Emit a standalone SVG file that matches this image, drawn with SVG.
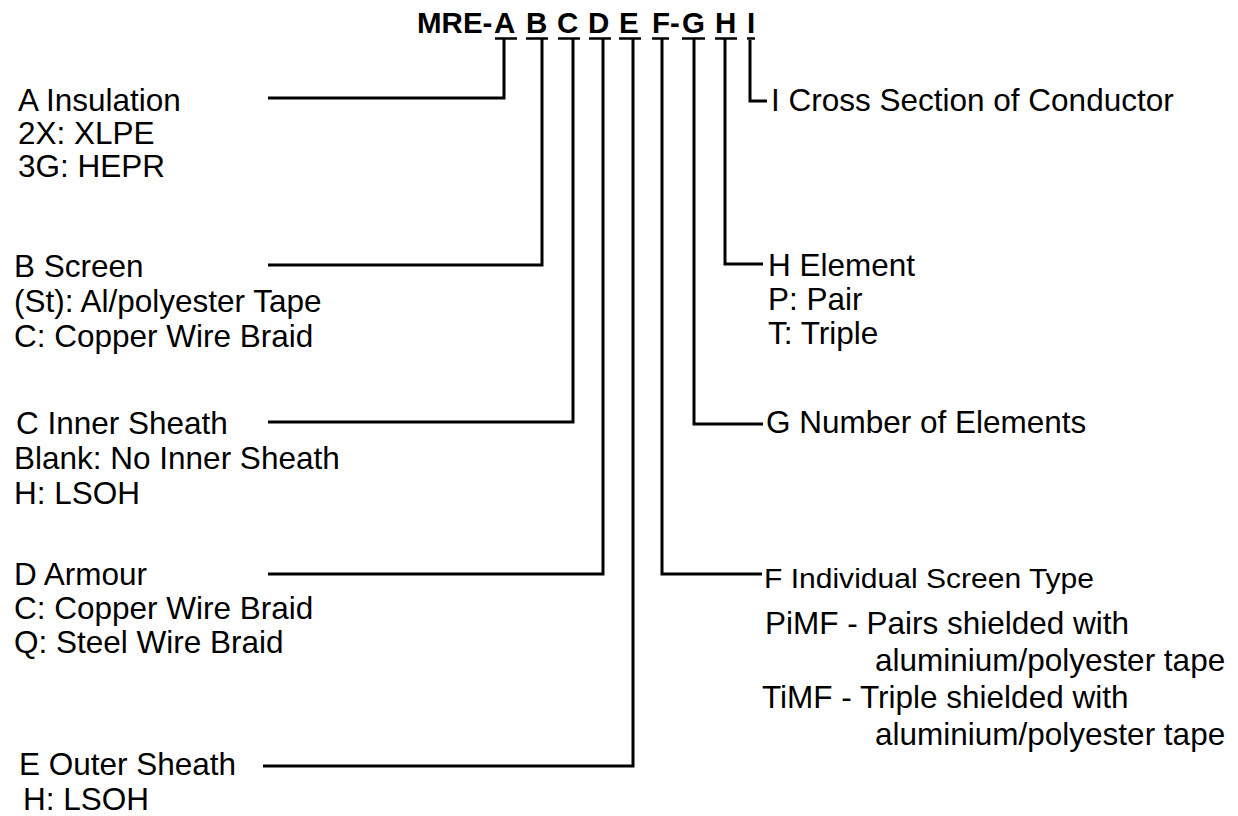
<svg xmlns="http://www.w3.org/2000/svg" width="1238" height="816" viewBox="0 0 1238 816">
<style>
text{font-family:"Liberation Sans",Arial,sans-serif;fill:#000;font-size:31.5px}
.title{font-weight:bold;font-size:29.5px}
.sm{font-size:27px}
.c{fill:none;stroke:#000;stroke-width:3;stroke-linecap:butt;stroke-linejoin:miter}
.u{stroke:#000;stroke-width:2.5}
</style>
<rect width="1238" height="816" fill="#fff"/>
<g id="title">
<text class="title" y="33"><tspan x="417">MRE-</tspan><tspan x="494">A</tspan><tspan x="526">B</tspan><tspan x="557">C</tspan><tspan x="588">D</tspan><tspan x="619">E</tspan><tspan x="652">F-</tspan><tspan x="682">G</tspan><tspan x="715">H</tspan><tspan x="747">I</tspan></text>
<g class="u">
<line x1="495" y1="38.5" x2="517" y2="38.5"/>
<line x1="526" y1="38.5" x2="548" y2="38.5"/>
<line x1="558" y1="38.5" x2="580" y2="38.5"/>
<line x1="589" y1="38.5" x2="611" y2="38.5"/>
<line x1="619" y1="38.5" x2="641" y2="38.5"/>
<line x1="652" y1="38.5" x2="669" y2="38.5"/>
<line x1="682" y1="38.5" x2="705" y2="38.5"/>
<line x1="715" y1="38.5" x2="737" y2="38.5"/>
<line x1="747" y1="38.5" x2="755" y2="38.5"/>
</g>
</g>
<g id="connectors">
<path class="c" d="M504,38 V98 H268"/>
<path class="c" d="M542,38 V265 H268"/>
<path class="c" d="M573,38 V422 H268"/>
<path class="c" d="M603,38 V574 H268"/>
<path class="c" d="M633,38 V766 H263"/>
<path class="c" d="M662,38 V574 H762"/>
<path class="c" d="M694,38 V424 H763"/>
<path class="c" d="M725,38 V264 H763"/>
<path class="c" d="M750,40 V101 H767"/>
</g>
<g id="nodeA">
<text x="18" y="111">A Insulation</text>
<text x="18" y="144">2X: XLPE</text>
<text x="18" y="177">3G: HEPR</text>
</g>
<g id="nodeB">
<text x="14" y="277">B Screen</text>
<text x="14" y="312">(St): Al/polyester Tape</text>
<text x="14" y="347">C: Copper Wire Braid</text>
</g>
<g id="nodeC">
<text x="16" y="434">C Inner Sheath</text>
<text x="14" y="469">Blank: No Inner Sheath</text>
<text x="14" y="504">H: LSOH</text>
</g>
<g id="nodeD">
<text x="14" y="585">D Armour</text>
<text x="14" y="619">C: Copper Wire Braid</text>
<text x="14" y="653">Q: Steel Wire Braid</text>
</g>
<g id="nodeE">
<text x="19" y="775">E Outer Sheath</text>
<text x="23" y="810">H: LSOH</text>
</g>
<g id="nodeI">
<text x="771" y="111">I Cross Section of Conductor</text>
</g>
<g id="nodeH">
<text x="768" y="276">H Element</text>
<text x="768" y="310">P: Pair</text>
<text x="768" y="344">T: Triple</text>
</g>
<g id="nodeG">
<text x="766" y="433">G Number of Elements</text>
</g>
<g id="nodeF">
<text class="sm" x="764" y="588" textLength="330" lengthAdjust="spacingAndGlyphs">F Individual Screen Type</text>
<text x="765" y="634">PiMF - Pairs shielded with</text>
<text x="875" y="671">aluminium/polyester tape</text>
<text x="762" y="708">TiMF - Triple shielded with</text>
<text x="875" y="745">aluminium/polyester tape</text>
</g>
</svg>
